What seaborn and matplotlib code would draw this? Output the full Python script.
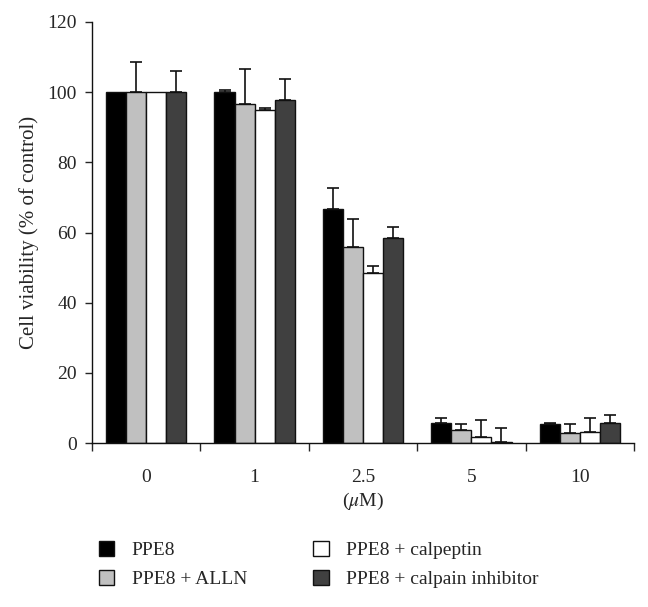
import numpy as np
import pandas as pd
import seaborn as sns
import matplotlib.pyplot as plt

# concentraciones y tratamientos
dosis = ["0", "1", "2.5", "5", "10"]
tratamientos = ["PPE8", "PPE8 + ALLN", "PPE8 + calpeptin", "PPE8 + calpain inhibitor"]

# viabilidad (% del control) por tratamiento
ppe8 = [100, 100, 66.7, 5.8, 5.3]
alln = [100, 96.5, 55.8, 3.6, 2.8]
calpeptin = [100, 95.0, 48.5, 1.7, 3.0]
calpain = [100, 97.8, 58.3, 0.2, 5.7]

# error superior (0 = sin barra)
err_ppe8 = [0, 0.5, 6.0, 1.4, 0.5]
err_alln = [8.5, 10.0, 8.0, 1.8, 2.5]
err_calpeptin = [0, 0.4, 2.0, 4.8, 4.2]
err_calpain = [6.0, 6.0, 3.2, 4.0, 2.2]

colores = ["#000000", "#c0c0c0", "#ffffff", "#404040"]

valores = [ppe8, alln, calpeptin, calpain]
errores = [err_ppe8, err_alln, err_calpeptin, err_calpain]
filas = []
for t, vals, errs in zip(tratamientos, valores, errores):
    for d, v, e in zip(dosis, vals, errs):
        filas.append({"dosis": d, "tratamiento": t, "viabilidad": v, "error": e})
datos = pd.DataFrame(filas)

sns.set_style("ticks")
plt.rcParams["font.family"] = ["Liberation Serif", "DejaVu Serif"]
plt.rcParams["mathtext.fontset"] = "stix"

fig = plt.figure(figsize=(6.48, 6.07), dpi=100)
ax = fig.add_axes([92 / 648, 164 / 607, 542 / 648, 421 / 607])

sns.barplot(data=datos, x="dosis", y="viabilidad", hue="tratamiento",
            order=dosis, hue_order=tratamientos, palette=colores,
            errorbar=None, width=0.74, edgecolor="#111111", linewidth=1.0,
            saturation=1, ax=ax)

# barras de error (solo hacia arriba)
for cont, t in zip(ax.containers, tratamientos):
    sub = datos[datos["tratamiento"] == t]
    errs = sub["error"].values
    for b, e in zip(cont, errs):
        if e <= 0:
            continue
        ax.errorbar(b.get_x() + b.get_width() / 2, b.get_height(),
                    yerr=[[0], [e]], fmt="none", ecolor="#111111",
                    elinewidth=1.2, capsize=4, capthick=1.2)

ax.set_xlim(-0.5, 4.5)
ax.set_ylim(0, 120)
ax.set_yticks(range(0, 121, 20))
ax.set_xticks(np.arange(-0.5, 5, 1.0))
ax.set_xticklabels([])
ax.set_xticks(range(5), minor=True)
ax.set_xticklabels(dosis, minor=True)
ax.tick_params(axis="x", which="minor", length=0, pad=19, labelsize=14)
ax.tick_params(axis="x", which="major", length=6, width=1)
ax.tick_params(axis="y", length=5, width=1, labelsize=14, pad=6)
for s in ["left", "bottom"]:
    ax.spines[s].set_linewidth(1.0)
    ax.spines[s].set_color("#111111")
sns.despine(ax=ax)

ax.set_xlabel("($\\mathit{\\mu}$M)", fontsize=14, labelpad=3)
ax.set_ylabel("Cell viability (% of control)", fontsize=15, labelpad=6)

sns.move_legend(ax, "upper left", bbox_to_anchor=(-0.002, -0.215), ncol=2,
                frameon=False, title=None, fontsize=14, handlelength=0.8,
                handleheight=0.8, handletextpad=0.9, columnspacing=3.4,
                labelspacing=0.55, borderaxespad=0)
for h in ax.get_legend().legend_handles:
    h.set_edgecolor("#111111")
    h.set_linewidth(1.0)

fig.savefig("out.png", dpi=100)
